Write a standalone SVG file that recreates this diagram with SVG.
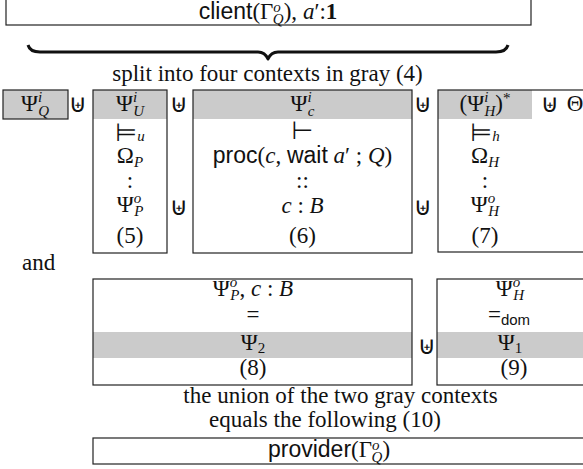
<svg xmlns="http://www.w3.org/2000/svg" width="583" height="469" viewBox="0 0 583 469">
<style>
.rm{font-family:"Liberation Serif",serif;font-size:23px;fill:#111}
.it{font-style:italic}
.sf{font-family:"Liberation Sans",sans-serif;font-size:23px}
.sc{font-size:15px}
.sym{font-family:"DejaVu Sans",sans-serif;font-size:25px;fill:#111}
.box{fill:none;stroke:#222;stroke-width:1.2}
.gray{fill:#cbcbcb}
.bf{font-weight:bold}
</style>
<rect width="583" height="469" fill="#fff"/>
<g id="client">
<rect class="box" x="6" y="-2" width="525" height="27"/>
<text class="rm" x="268" y="19" text-anchor="middle"><tspan class="sf">client</tspan>(Γ<tspan class="sc it" dy="-7">o</tspan><tspan class="sc it" dx="-8" dy="12">Q</tspan><tspan dy="-5">), </tspan><tspan class="it">a</tspan>′:<tspan class="bf">1</tspan></text>
</g>
<g id="brace">
<path d="M28 45 Q30 52 40 52 L258 52 Q265 52 268 59 Q271 52 278 52 L496 52 Q506 52 508 45" fill="none" stroke="#111" stroke-width="3" stroke-linejoin="round"/>
<text class="rm" x="267.5" y="81" text-anchor="middle">split into four contexts in gray (4)</text>
</g>
<g id="psiQ">
<rect class="gray" x="3" y="90" width="65" height="29"/>
<rect class="box" x="3" y="90" width="65" height="29"/>
<text class="rm" x="35" y="111" text-anchor="middle">Ψ<tspan class="sc it" dy="-9">i</tspan><tspan class="sc it" dx="-4" dy="14">Q</tspan></text>
</g>
<g id="ops">
<text class="sym" x="78" y="112" text-anchor="middle">⊎</text>
<text class="sym" x="179" y="112" text-anchor="middle">⊎</text>
<text class="sym" x="179" y="215" text-anchor="middle">⊎</text>
<text class="sym" x="423" y="112" text-anchor="middle">⊎</text>
<text class="sym" x="423" y="215" text-anchor="middle">⊎</text>
<text class="sym" x="427" y="354" text-anchor="middle">⊎</text>
</g>
<g id="box5">
<rect class="gray" x="93" y="90" width="74" height="29"/>
<rect class="box" x="93" y="90" width="74" height="163"/>
<text class="rm" x="130" y="111" text-anchor="middle">Ψ<tspan class="sc it" dy="-9">i</tspan><tspan class="sc it" dx="-4" dy="14">U</tspan></text>
<text class="rm" x="130" y="141" text-anchor="middle"><tspan class="sym" font-size="30">⊨</tspan><tspan class="sc it" dy="0">u</tspan></text>
<text class="rm" x="130" y="163" text-anchor="middle">Ω<tspan class="sc it" dy="4">P</tspan></text>
<text class="rm" x="130" y="188" text-anchor="middle">:</text>
<text class="rm" x="130" y="212" text-anchor="middle">Ψ<tspan class="sc it" dy="-9">o</tspan><tspan class="sc it" dx="-7" dy="13">P</tspan></text>
<text class="rm" x="130" y="243" text-anchor="middle">(5)</text>
</g>
<g id="box6">
<rect class="gray" x="193" y="90" width="219" height="29"/>
<rect class="box" x="193" y="90" width="219" height="163"/>
<text class="rm" x="302.5" y="111" text-anchor="middle">Ψ<tspan class="sc it" dy="-9">i</tspan><tspan class="sc it" dx="-4" dy="14">c</tspan></text>
<text class="sym" x="302.5" y="139" text-anchor="middle" font-size="22">⊢</text>
<text class="rm" x="302.5" y="163" text-anchor="middle"><tspan class="sf">proc</tspan>(<tspan class="it">c</tspan>, <tspan class="sf">wait</tspan> <tspan class="it">a</tspan>′ ; <tspan class="it">Q</tspan>)</text>
<text class="rm" x="302.5" y="188" text-anchor="middle">::</text>
<text class="rm" x="302.5" y="213" text-anchor="middle"><tspan class="it">c</tspan> : <tspan class="it">B</tspan></text>
<text class="rm" x="302.5" y="243" text-anchor="middle">(6)</text>
</g>
<g id="box7">
<rect class="gray" x="438" y="90" width="94" height="29"/>
<rect class="box" x="438" y="90" width="150" height="162"/>
<text class="rm" x="485" y="111" text-anchor="middle">(Ψ<tspan class="sc it" dy="-9">i</tspan><tspan class="sc it" dx="-4" dy="14">H</tspan><tspan dy="-5">)</tspan><tspan class="sc" dy="-8">*</tspan></text>
<text class="sym" x="550" y="112" text-anchor="middle">⊎</text>
<text class="rm" x="575" y="111" text-anchor="middle">Θ</text>
<text class="rm" x="485" y="141" text-anchor="middle"><tspan class="sym" font-size="30">⊨</tspan><tspan class="sc it" dy="0">h</tspan></text>
<text class="rm" x="485" y="163" text-anchor="middle">Ω<tspan class="sc it" dy="4">H</tspan></text>
<text class="rm" x="485" y="188" text-anchor="middle">:</text>
<text class="rm" x="485" y="212" text-anchor="middle">Ψ<tspan class="sc it" dy="-9">o</tspan><tspan class="sc it" dx="-7" dy="13">H</tspan></text>
<text class="rm" x="485" y="243" text-anchor="middle">(7)</text>
</g>
<text class="rm" x="22" y="270">and</text>
<g id="box8">
<rect class="gray" x="93" y="332" width="319" height="26"/>
<rect class="box" x="93" y="279" width="319" height="106"/>
<text class="rm" x="253" y="296" text-anchor="middle">Ψ<tspan class="sc it" dy="-9">o</tspan><tspan class="sc it" dx="-7" dy="13">P</tspan><tspan dy="-4">, </tspan><tspan class="it">c</tspan> : <tspan class="it">B</tspan></text>
<text class="rm" x="253" y="322" text-anchor="middle">=</text>
<text class="rm" x="253" y="350" text-anchor="middle">Ψ<tspan class="sc" dy="3">2</tspan></text>
<text class="rm" x="253" y="375" text-anchor="middle">(8)</text>
</g>
<g id="box9">
<rect class="gray" x="437" y="332" width="150" height="26"/>
<rect class="box" x="437" y="279" width="150" height="106"/>
<text class="rm" x="510" y="296" text-anchor="middle">Ψ<tspan class="sc it" dy="-9">o</tspan><tspan class="sc it" dx="-7" dy="13">H</tspan></text>
<text class="rm" x="509" y="322" text-anchor="middle">=<tspan class="sf sc" dy="3" font-size="15">dom</tspan></text>
<text class="rm" x="510" y="350" text-anchor="middle">Ψ<tspan class="sc" dy="3">1</tspan></text>
<text class="rm" x="514" y="375" text-anchor="middle">(9)</text>
</g>
<text class="rm" x="340.5" y="403" text-anchor="middle">the union of the two gray contexts</text>
<text class="rm" x="325" y="427" text-anchor="middle">equals the following (10)</text>
<g id="provider">
<rect class="box" x="93" y="438" width="495" height="26"/>
<text class="rm" x="329" y="457" text-anchor="middle"><tspan class="sf">provider</tspan>(Γ<tspan class="sc it" dy="-7">o</tspan><tspan class="sc it" dx="-8" dy="12">Q</tspan><tspan dy="-5">)</tspan></text>
</g>
</svg>
